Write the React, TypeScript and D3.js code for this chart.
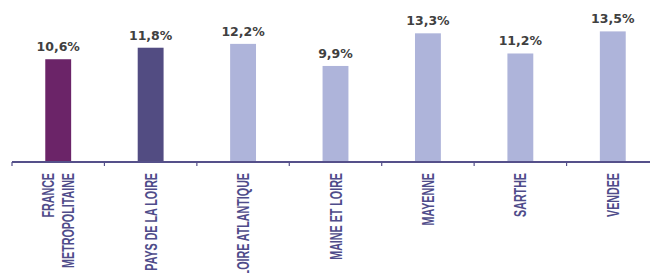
// Bar chart: share by territory (Pays de la Loire)
import React from "react";
import * as d3 from "d3";

const categories = [
  ["FRANCE", "METROPOLITAINE"],
  ["PAYS DE LA LOIRE"],
  ["LOIRE ATLANTIQUE"],
  ["MAINE ET LOIRE"],
  ["MAYENNE"],
  ["SARTHE"],
  ["VENDEE"],
];
const values = [10.6, 11.8, 12.2, 9.9, 13.3, 11.2, 13.5];
const barColors = ["#6b2468", "#524c82", "#aeb4da", "#aeb4da", "#aeb4da", "#aeb4da", "#aeb4da"];

const width = 650;
const height = 273;
const axisY = 162;

export default function App() {
  const keys = categories.map((c) => c.join(" "));

  const x = d3.scaleBand<string>().domain(keys).range([12, 659]).padding(0);
  const y = d3.scaleLinear().domain([0, 14]).range([161, 161 - 134.4]);
  const barW = x.bandwidth() * 0.28;
  const fmt = (v: number) => d3.format(".1f")(v).replace(".", ",") + "%";

  // tick positions at band boundaries
  const ticks = keys.map((k) => x(k) as number);

  return (
    <svg
      width={width}
      height={height}
      style={{ position: "absolute", left: 0, top: 0, background: "#fff" }}
    >
      {/* bars */}
      {values.map((v, i) => {
        const cx = (x(keys[i]) as number) + x.bandwidth() / 2;
        return (
          <g key={keys[i]}>
            <rect
              x={cx - barW / 2}
              y={y(v)}
              width={barW}
              height={y(0) - y(v)}
              fill={barColors[i]}
            />
            <text
              x={cx}
              y={y(v) - 8}
              textAnchor="middle"
              fontFamily="DejaVu Sans, Verdana, sans-serif"
              fontWeight="bold"
              fontSize={12.5}
              fill="#404040"
            >
              {fmt(v)}
            </text>
          </g>
        );
      })}

      {/* axis */}
      <line x1={12} x2={width} y1={axisY} y2={axisY} stroke="#55508a" strokeWidth={2} />
      {ticks.map((t, i) => (
        <line key={i} x1={t} x2={t} y1={axisY} y2={axisY + 4} stroke="#55508a" strokeWidth={1.2} />
      ))}

      {/* category labels, rotated */}
      {categories.map((lines, i) => {
        const cx = (x(keys[i]) as number) + x.bandwidth() / 2;
        return lines.map((ln, j) => {
          const off = (j - (lines.length - 1) / 2) * 20;
          return (
            <text
              key={i + "-" + j}
              transform={`translate(${cx + off},173) rotate(-90) scale(0.63,1)`}
              textAnchor="end"
              dy="0.36em"
              fontFamily="Liberation Sans, Arial, sans-serif"
              fontWeight="bold"
              fontSize={17}
              fill="#4f4c8a"
            >
              {ln}
            </text>
          );
        });
      })}
    </svg>
  );
}
